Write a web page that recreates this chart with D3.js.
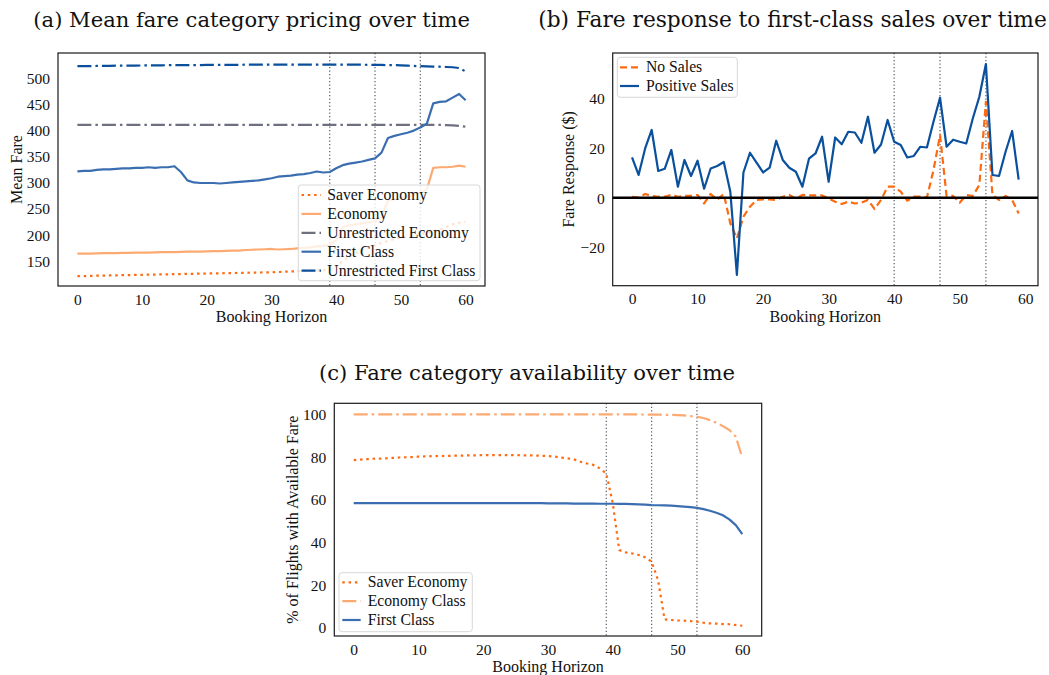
<!DOCTYPE html>
<html><head><meta charset="utf-8">
<script src="https://cdn.jsdelivr.net/npm/d3@7"></script>
<style>
body{margin:0;background:#fff;}
svg{display:block;}
text{font-family:"Liberation Serif","Times New Roman",serif;fill:#111;}
.title{font-family:"DejaVu Serif",serif;}
</style></head>
<body>
<svg id="chart" width="1049" height="675"></svg>
<script>
// ---------- DATA ----------
const horizonA = d3.range(0, 61);
const saverEconomyFare = [121,121,121.5,122,122,122.5,122.5,123,123,123.5,123.5,124,124,124.5,124.5,125,125,125.5,125.5,126,126,126.5,126.5,127,127,127.5,127.5,128,128,128.5,128.5,129,129.5,130,130.5,131,131.5,132,132.5,133,140,150,158,165,170,175,180,185,188,192,195,197,199,201,204,207,210,215,220,223,225];
const economyFare = [164,164,164,164.5,165,165,165,165.5,165.5,166,166,166,166.5,167,167,167,167.5,168,168,168,168.5,169,169,169.5,170,170,171,171.5,172,172.5,173,172,172.5,173,174,175,176,178,179,181,190,215,218,220,222,224,226,235,265,268,270,273,276,280,286,328,329,329,330,332,330];
const unrestrictedEconomyFare = [410,410,410,410,410,410,410,410,410,410,410,410,410,410,410,410,410,410,410,410,410,410,410,410,410,410,410,410,410,410,410,410,410,410,410,410,410,410,410,410,410,410,410,410,410,410,410,410,410,410,410,410,410,410,410,410,410,409.5,409,408,406.5];
const firstClassFare = [321,322,322,324,325,325,326,327,327,328,328,329,328,329,329,331,320,304,300,299,299,299,298,299,300,301,302,303,304,306,308,311,312,313,315,316,318,321,319,320,327,333,336,338,340,343,346,357,385,389,392,395,399,405,412,451,454,455,462,469,457];
const unrestrictedFirstFare = [522,522,522,522.5,522.5,522.5,523,523,523,523,523.5,523.5,523.5,523.5,524,524,524,524,524,524,524.5,524.5,524.5,524.5,524.5,524.5,525,525,525,525,525,525,525,525,525,525,525,525,525,525,525,525,525,525,525,524.5,524.5,524.5,524,524,523.5,523,522.5,522,521.5,521,521,520.5,520,518.5,512];

const horizonB = d3.range(0, 60);
const noSalesResponse = [0.4,0.1,1.5,0.7,0.4,0.4,1.2,0.4,0.7,0.7,1.1,-2.3,1.5,-0.7,1.5,-10.3,-16.3,-7.6,-3.6,-0.9,-0.7,-0.7,-0.9,0.4,1.1,-0.3,1.1,0.9,0.9,0.9,-0.3,-1.6,-2.5,-1.6,-2.3,-2,-0.9,-4.5,-0.9,4.4,4.4,2.4,-1.2,0.4,0.4,0.1,11,25,0.7,0.7,-2,1.1,0.7,5.1,38.4,1.1,-0.9,0.7,-0.9,-6.3];
const positiveSalesResponse = [16.1,9.1,19.7,27.1,10.7,11.6,19.1,4.4,15.1,8.7,14.8,3.6,11.7,12.7,14.3,2.4,-30.9,10.1,18,14,10.1,12,22.8,15.1,12,10.4,4.4,15.6,17.7,24.4,6.4,24.1,21.4,26.4,26.1,22,32.4,18,21.3,31.1,22.4,21.1,16.1,16.7,20.4,20.1,30.4,40,20.4,23.2,22.4,21.7,31.7,40.4,53.5,9.1,8.7,18.4,26.7,7.2];

const horizonC = d3.range(0, 61);
const saverAvail = [78.6,78.8,79,79.2,79.3,79.4,79.6,79.8,79.9,80,80.2,80.3,80.4,80.5,80.5,80.6,80.7,80.7,80.8,80.8,80.9,80.9,80.9,80.9,80.9,80.9,80.8,80.8,80.7,80.6,80.5,80.2,79.8,79.4,78.9,77.8,77,76.3,74.7,72.3,58.3,36.4,35.3,34.8,34.1,33,30.9,22.3,3.9,3.6,3.4,3.3,3.1,2.8,2.3,2,1.9,1.7,1.6,1.25,0.9];
const economyAvail = [100,100,100,100,100,100,100,100,100,100,100,100,100,100,100,100,100,100,100,100,100,100,100,100,100,100,100,100,100,100,100,100,100,100,100,100,100,100,100,100,100,100,100,100,100,99.9,99.9,99.9,99.8,99.8,99.7,99.5,99.2,98.9,98.3,97.3,96.1,94.5,92.7,89.5,79.8];
const firstAvail = [58.4,58.4,58.4,58.4,58.4,58.4,58.4,58.4,58.4,58.4,58.4,58.4,58.4,58.4,58.4,58.4,58.4,58.4,58.4,58.4,58.4,58.4,58.4,58.4,58.4,58.4,58.4,58.4,58.4,58.4,58.3,58.3,58.3,58.3,58.2,58.2,58.2,58.2,58.1,58.1,58.1,58,58,57.9,57.8,57.7,57.5,57.4,57.3,57.2,57,56.8,56.5,56.2,55.6,54.8,53.9,52.7,50.8,48.1,43.9];

const xTicks = [0,10,20,30,40,50,60];
const yTicksA = [150,200,250,300,350,400,450,500];
const yTicksB = [-20,0,20,40];
const yTicksC = [0,20,40,60,80,100];
const vlinesA = [39,46,53];
const vlinesB = [40,47,54];
const vlinesC = [39,46,53];

const titles = ["(a) Mean fare category pricing over time","(b) Fare response to first-class sales over time","(c) Fare category availability over time"];

// ---------- STYLE ----------
const C = {saver:"#ff6a10", econ:"#fdaa72", unEcon:"#6e7080", first:"#3b6eb0", unFirst:"#0a4f9c", noSales:"#fd6a10", pos:"#0a509c"};
const DASHDOT = "14,4,2.5,4", DOT = "2.5,3.8", DASH = "7,4";

const svg = d3.select("#chart");

function panel(cfg){
  const x = d3.scaleLinear().domain(cfg.xdom).range([cfg.left, cfg.right]);
  const y = d3.scaleLinear().domain(cfg.ydom).range([cfg.bottom, cfg.top]);
  const g = svg.append("g");
  // vertical dotted lines
  g.selectAll(".vl").data(cfg.vlines).enter().append("line")
    .attr("x1",d=>x(d)).attr("x2",d=>x(d)).attr("y1",cfg.top).attr("y2",cfg.bottom)
    .attr("stroke","#555a66").attr("stroke-width",1.2).attr("stroke-dasharray","1.3,2.2");
  // axes (no tick marks)
  const ax = g.append("g").attr("transform",`translate(0,${cfg.bottom})`)
    .call(d3.axisBottom(x).tickValues(xTicks).tickSize(0).tickPadding(0).tickFormat(d3.format("d")));
  ax.select(".domain").remove();
  ax.selectAll("text").attr("y",18.5).attr("dy",null).attr("font-size",15.5).attr("font-family","Liberation Serif").attr("fill","#111");
  const ay = g.append("g").attr("transform",`translate(${cfg.left},0)`)
    .call(d3.axisLeft(y).tickValues(cfg.yticks).tickSize(0).tickPadding(8).tickFormat(d=>d<0?"\u2212"+Math.abs(d):d));
  ay.select(".domain").remove();
  ay.selectAll("text").attr("dy","0.34em").attr("font-size",15.5).attr("font-family","Liberation Serif").attr("fill","#111");
  // extra content
  if(cfg.extra) cfg.extra(g,x,y);
  // series
  cfg.series.forEach(s=>{
    const line = d3.line().x((d,i)=>x(s.x[i])).y(d=>y(d));
    g.append("path").datum(s.y).attr("d",line).attr("fill","none")
      .attr("stroke",s.color).attr("stroke-width",s.w||2.2)
      .attr("stroke-dasharray",s.dash||null).attr("stroke-linejoin","round");
  });
  // frame
  g.append("rect").attr("x",cfg.left).attr("y",cfg.top).attr("width",cfg.right-cfg.left).attr("height",cfg.bottom-cfg.top)
    .attr("fill","none").attr("stroke","#1a1a1a").attr("stroke-width",1.2);
  // axis labels
  g.append("text").attr("x",(cfg.left+cfg.right)/2).attr("y",cfg.bottom+36).attr("text-anchor","middle")
    .attr("font-size",16).text("Booking Horizon");
  g.append("text").attr("transform",`translate(${cfg.ylabX},${(cfg.top+cfg.bottom)/2}) rotate(-90)`)
    .attr("text-anchor","middle").attr("font-size",16).text(cfg.ylabel);
  // legend
  const L = cfg.legend;
  const lg = g.append("g");
  lg.append("rect").attr("x",L.x0).attr("y",L.y0).attr("width",L.x1-L.x0).attr("height",L.y1-L.y0)
    .attr("rx",3).attr("fill","#fff").attr("fill-opacity",0.8).attr("stroke","#d8d8d8").attr("stroke-width",1);
  cfg.series.forEach((s,i)=>{
    const yy = L.firstRow + i*L.step;
    lg.append("line").attr("x1",L.s0).attr("x2",L.s1).attr("y1",yy).attr("y2",yy)
      .attr("stroke",s.color).attr("stroke-width",s.w||2.2).attr("stroke-dasharray",s.dash||null);
    lg.append("text").attr("x",L.tx).attr("y",yy+5).attr("font-size",15.7).text(s.name);
  });
}

panel({left:58,right:485,top:53,bottom:286,xdom:[-3,63],ydom:[102.3,547.2],yticks:yTicksA,vlines:vlinesA,
  ylabel:"Mean Fare",ylabX:21.5,
  series:[
    {name:"Saver Economy",x:horizonA,y:saverEconomyFare,color:C.saver,dash:DOT},
    {name:"Economy",x:horizonA,y:economyFare,color:C.econ},
    {name:"Unrestricted Economy",x:horizonA,y:unrestrictedEconomyFare,color:C.unEcon,dash:DASHDOT},
    {name:"First Class",x:horizonA,y:firstClassFare,color:C.first},
    {name:"Unrestricted First Class",x:horizonA,y:unrestrictedFirstFare,color:C.unFirst,dash:DASHDOT}
  ],
  legend:{x0:298.3,x1:480,y0:185,y1:280.7,firstRow:195,step:18.9,s0:301.5,s1:321,tx:327.3}
});

panel({left:612.7,right:1038,top:53,bottom:285.7,xdom:[-2.95,61.95],ydom:[-35.2,57.9],yticks:yTicksB,vlines:vlinesB,
  ylabel:"Fare Response ($)",ylabX:574,
  extra:(g,x,y)=>{},
  series:[
    {name:"No Sales",x:horizonB,y:noSalesResponse,color:C.noSales,dash:DASH},
    {name:"Positive Sales",x:horizonB,y:positiveSalesResponse,color:C.pos}
  ],
  legend:{x0:617.3,x1:737.3,y0:57.3,y1:97.3,firstRow:67.3,step:18.7,s0:620,s1:639,tx:646}
});
// zero line in panel (b)
(function(){
  const y = d3.scaleLinear().domain([-35.2,57.9]).range([285.7,53]);
  svg.append("line").attr("x1",612.7).attr("x2",1038).attr("y1",y(0)).attr("y2",y(0))
    .attr("stroke","#000").attr("stroke-width",2.6);
})();

panel({left:334.3,right:761.7,top:403.3,bottom:636,xdom:[-3,63],ydom:[-3.9,105.2],yticks:yTicksC,vlines:vlinesC,
  ylabel:"% of Flights with Available Fare",ylabX:297.5,
  series:[
    {name:"Saver Economy",x:horizonC,y:saverAvail,color:C.saver,dash:DOT},
    {name:"Economy Class",x:horizonC,y:economyAvail,color:C.econ,dash:DASHDOT},
    {name:"First Class",x:horizonC,y:firstAvail,color:C.first}
  ],
  legend:{x0:339,x1:472.3,y0:572.7,y1:631.7,firstRow:582.3,step:18.85,s0:342.3,s1:360.7,tx:367.7}
});

// titles, fitted to measured widths
const titlePos = [{x0:33.3,x1:470,y:27},{x0:538,x1:1047,y:27},{x0:319,x1:735,y:380}];
titles.forEach((t,i)=>{
  const p = titlePos[i];
  const el = svg.append("text").attr("class","title").attr("x",(p.x0+p.x1)/2).attr("y",p.y)
    .attr("text-anchor","middle").attr("font-size",20).text(t);
  const w = el.node().getComputedTextLength();
  el.attr("font-size", 20*(p.x1-p.x0)/w);
});
</script>
</body></html>
